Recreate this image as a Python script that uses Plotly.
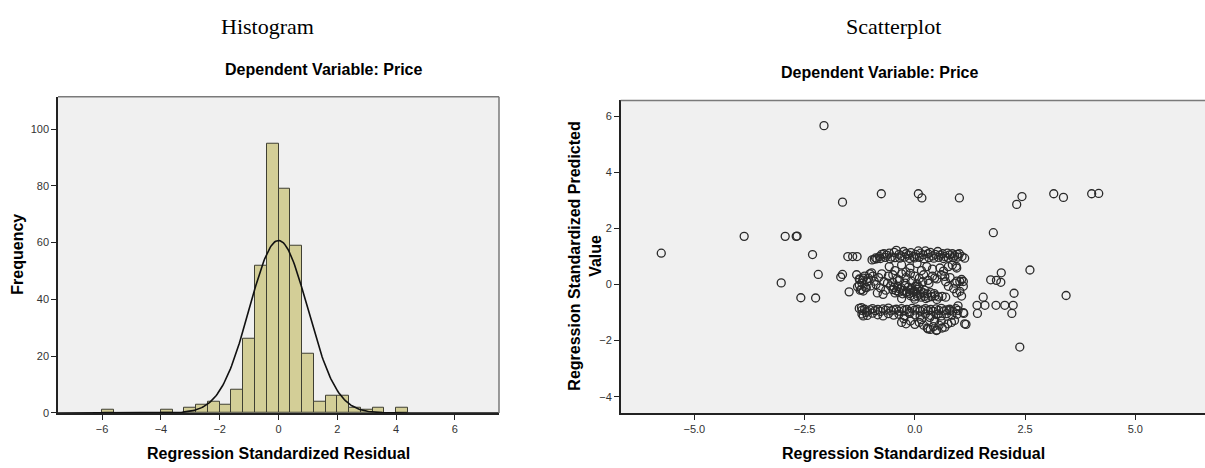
import plotly.graph_objects as go
import numpy as np

W, H = 1205, 468

# ---------------- Histogram data ----------------
bin_width = 0.4
bin_left_edges = [-6.0, -4.0, -3.2, -2.8, -2.4, -2.0, -1.6, -1.2, -0.8, -0.4,
                  0.0, 0.4, 0.8, 1.2, 1.6, 2.0, 2.4, 2.8, 3.2, 4.0]
bin_counts = [1, 1, 2, 3, 4, 3, 8, 26, 52, 95,
              79, 59, 21, 4, 6, 6, 2, 1, 2, 2]
resid_mean = 0.0
resid_sd = 0.99
hist_xticks = [-6, -4, -2, 0, 2, 4, 6]
hist_yticks = [0, 20, 40, 60, 80, 100]

# ---------------- Scatter data (residual, predicted) ----------------
outlier_x = [-5.75, -3.87, -2.94, -2.69, -2.67, -2.06, -2.32, -2.19, -3.03, -1.64,
             -1.68, -1.64, -1.52, -1.41, -1.31, -0.76, 0.08, 0.16, 1.01, 1.78,
             2.31, 2.43, 3.15, 3.37, 4.01, 4.17, 2.61, 1.72, 1.85, 1.95,
             1.96, -2.585, -2.25, -1.49, 2.38, 3.43, 2.25, 1.55, 1.41, 1.59,
             1.84, 2.04, 2.23, 1.42, 2.2, 1.16, 1.11]
outlier_y = [1.12, 1.72, 1.72, 1.72, 1.73, 5.67, 1.07, 0.36, 0.06, 2.94,
             0.27, 0.36, 1.0, 1.0, 1.0, 3.24, 3.24, 3.09, 3.09, 1.85,
             2.86, 3.14, 3.24, 3.11, 3.24, 3.25, 0.52, 0.17, 0.15, 0.08,
             0.42, -0.47, -0.48, -0.26, -2.23, -0.39, -0.31, -0.45, -0.74, -0.74,
             -0.74, -0.74, -0.74, -1.03, -1.03, -1.42, -1.03]

top_band = [(-0.97, 0.88), (-0.92, 0.9), (-0.86, 0.92), (-0.8, 1.0), (-0.75, 1.08),
            (-0.7, 1.1), (-0.64, 1.05), (-0.58, 1.12), (-0.53, 0.98), (-0.47, 1.15),
            (-0.42, 1.22), (-0.36, 1.08), (-0.31, 1.02), (-0.25, 1.18), (-0.2, 1.1),
            (-0.14, 1.05), (-0.09, 1.14), (-0.03, 1.0), (0.02, 1.08), (0.08, 1.2),
            (0.13, 1.12), (0.19, 1.06), (0.24, 1.2), (0.3, 1.1), (0.35, 1.15),
            (0.41, 1.02), (0.46, 1.08), (0.52, 1.18), (0.57, 1.05), (0.63, 1.1),
            (0.68, 1.0), (0.74, 1.12), (0.79, 1.06), (0.85, 1.1), (0.9, 1.02),
            (0.96, 1.08), (1.01, 1.1), (1.07, 1.0), (1.13, 0.94),
            (-0.89, 0.95), (-0.78, 0.93), (-0.67, 0.97), (-0.56, 0.92), (-0.45, 0.96),
            (-0.34, 0.94), (-0.23, 0.98), (-0.12, 0.93), (-0.01, 0.95), (0.1, 0.97),
            (0.21, 0.92), (0.32, 0.96), (0.43, 0.94), (0.54, 0.97), (0.65, 0.93),
            (0.76, 0.95), (0.87, 0.96), (0.98, 0.98)]

sub_top = [(-0.58, 0.64), (-0.11, 0.59), (0.27, 0.64), (0.57, 0.59), (0.95, 0.59),
           (0.76, 0.64), (-0.3, 0.7), (0.05, 0.75), (0.4, 0.55), (-0.45, 0.5),
           (0.85, 0.7), (0.15, 0.5), (0.65, 0.48), (-0.2, 0.45), (0.94, 0.65)]

middle_loose = [(-1.32, 0.35), (-1.26, 0.2), (-1.2, 0.05), (-1.14, 0.3), (-1.08, 0.1),
                (-1.02, 0.38), (-1.0, -0.05), (-1.12, -0.1), (-1.05, 0.22), (-0.95, 0.3),
                (-0.92, 0.12), (-1.18, 0.16), (-0.98, 0.42), (-1.3, -0.08), (-1.24, -0.2),
                (-0.88, 0.0), (-0.82, 0.25), (-0.78, -0.12), (-0.75, 0.38), (-0.7, 0.1),
                (-0.66, -0.2), (-0.6, 0.3), (-0.85, -0.3), (-0.72, -0.35), (-0.62, 0.05),
                (-0.5, 0.35), (-0.4, 0.2), (-0.3, 0.38), (-0.2, 0.25), (-0.1, 0.4),
                (0.0, 0.3), (0.1, 0.22), (0.2, 0.35), (0.3, 0.15), (0.4, 0.3),
                (0.5, 0.2), (0.6, 0.35), (0.7, 0.1), (0.8, 0.25), (0.45, 0.23),
                (0.68, 0.29), (0.76, -0.06), (0.91, 0.05), (1.02, 0.11), (1.1, 0.11),
                (1.02, -0.24), (1.06, -0.41), (0.95, 0.12), (1.06, 0.18), (1.1, -0.06),
                (0.88, -0.15), (0.95, -0.3),
                (-1.25, 0.18), (-1.17, 0.23), (-1.21, -0.18), (-1.17, -0.23), (-1.1, -0.11),
                (-1.26, -0.02)]

dense_core = [(-0.55, -0.05), (-0.47, -0.1), (-0.39, -0.06), (-0.31, -0.12), (-0.23, -0.04),
              (-0.15, -0.09), (-0.07, -0.13), (0.01, -0.07), (0.09, -0.1),
              (-0.5, -0.18), (-0.42, -0.22), (-0.34, -0.16), (-0.26, -0.21), (-0.18, -0.25),
              (-0.1, -0.19), (-0.02, -0.23), (0.06, -0.17), (0.14, -0.24), (0.22, -0.2),
              (-0.45, -0.3), (-0.36, -0.27), (-0.28, -0.33), (-0.2, -0.29), (-0.12, -0.32),
              (-0.04, -0.28), (0.04, -0.31), (0.12, -0.34), (0.2, -0.3), (0.28, -0.33),
              (0.36, -0.29), (0.44, -0.32),
              (-0.1, -0.4), (-0.02, -0.44), (0.06, -0.41), (0.14, -0.45), (0.22, -0.42),
              (0.3, -0.46), (0.38, -0.43), (0.46, -0.4), (0.54, -0.44), (0.62, -0.42),
              (0.7, -0.45),
              (-0.5, 0.08), (-0.35, 0.15), (-0.22, 0.05), (-0.08, 0.12), (0.05, 0.02),
              (0.18, 0.1), (0.32, 0.04),
              (-0.3, -0.5), (0.0, -0.52), (0.25, -0.5), (0.5, -0.53)]

bottom_band = [(-1.26, -0.85), (-1.2, -0.92), (-1.14, -0.88), (-1.08, -0.95), (-1.02, -0.9),
               (-0.96, -0.86), (-0.9, -0.93), (-0.84, -0.89), (-0.78, -0.96), (-0.72, -0.87),
               (-0.66, -0.91), (-0.6, -0.84), (-0.54, -0.94), (-0.48, -0.9), (-0.42, -0.88),
               (-0.36, -0.95), (-0.3, -0.86), (-0.24, -0.92), (-0.18, -0.89), (-0.12, -0.97),
               (-0.06, -0.85), (0.0, -0.91), (0.06, -0.88), (0.12, -0.94), (0.18, -0.9),
               (0.24, -0.86), (0.3, -0.93), (0.36, -0.89), (0.42, -0.96), (0.48, -0.87),
               (0.54, -0.92), (0.6, -0.85), (0.66, -0.94), (0.72, -0.9), (0.79, -0.88),
               (0.86, -0.95), (0.93, -0.86), (0.98, -0.92),
               (-1.2, -1.05), (-1.08, -1.1), (-0.96, -1.02), (-0.84, -1.08), (-0.72, -1.12),
               (-0.6, -1.04), (-0.48, -1.09), (-0.36, -1.06), (-0.24, -1.11), (-0.12, -1.03),
               (0.0, -1.08), (0.12, -1.13), (0.24, -1.05), (0.36, -1.1), (0.48, -1.07),
               (0.6, -1.12), (0.72, -1.04), (0.84, -1.09), (0.96, -1.06),
               (-1.21, -0.82), (-1.17, -1.12), (-1.1, -1.0)]

lower_band = [(-0.3, -1.35), (-0.2, -1.4), (-0.1, -1.3), (0.0, -1.42), (0.1, -1.35),
              (0.2, -1.45), (0.28, -1.55), (0.35, -1.6), (0.42, -1.5), (0.5, -1.62),
              (0.55, -1.45), (0.62, -1.55), (0.68, -1.52), (0.75, -1.4), (0.83, -1.35),
              (0.3, -1.58), (0.49, -1.64), (-0.25, -1.22), (0.15, -1.25), (0.45, -1.3),
              (0.6, -1.3), (0.9, -1.28), (1.13, -1.4), (0.98, -0.76), (0.79, -0.93),
              (0.53, -1.05), (0.34, -1.17), (1.1, -1.0)]

scatter_xticks = [-5.0, -2.5, 0.0, 2.5, 5.0]
scatter_yticks = [-4, -2, 0, 2, 4, 6]

# ---------------- assemble ----------------
cluster = top_band + sub_top + middle_loose + dense_core + bottom_band + lower_band
sx = list(outlier_x) + [p[0] for p in cluster]
sy = list(outlier_y) + [p[1] for p in cluster]

n_obs = sum(bin_counts)
centers = [e + bin_width / 2 for e in bin_left_edges]
curve_x = np.linspace(-7.5, 7.5, 400)
curve_y = n_obs * bin_width / (resid_sd * np.sqrt(2 * np.pi)) * np.exp(-0.5 * ((curve_x - resid_mean) / resid_sd) ** 2)


def px_x(p):
    return p / W


def px_y(p):
    return 1 - p / H


# plot areas in pixels
h_l, h_r, h_t, h_b = 58, 499, 98, 418.3
s_l, s_r, s_t, s_b = 620.7, 1205, 101.7, 418.3

fig = go.Figure()
fig.add_trace(go.Bar(x=centers, y=bin_counts, width=bin_width,
                     marker=dict(color="#D3CE97", line=dict(color="#3f3f33", width=1)),
                     xaxis="x", yaxis="y", showlegend=False, hoverinfo="skip"))
fig.add_trace(go.Scatter(x=curve_x, y=curve_y, mode="lines",
                         line=dict(color="#111111", width=1.6),
                         xaxis="x", yaxis="y", showlegend=False, hoverinfo="skip"))
fig.add_trace(go.Scatter(x=sx, y=sy, mode="markers",
                         marker=dict(symbol="circle-open", size=8, color="#2a2a2a",
                                     line=dict(width=1.3, color="#2a2a2a")),
                         xaxis="x2", yaxis="y2", showlegend=False))

tick_font = dict(family="Liberation Sans, Arial", size=11, color="#333333")
common_axis = dict(showgrid=False, zeroline=False, ticks="outside", ticklen=5,
                   tickcolor="#222222", tickwidth=1, tickfont=tick_font,
                   showline=True, linecolor="#222222", linewidth=1.5)

fig.update_layout(
    width=W, height=H,
    margin=dict(l=0, r=0, t=0, b=0),
    paper_bgcolor="white",
    plot_bgcolor="#F0F0F0",
    bargap=0,
    xaxis=dict(domain=[px_x(h_l), px_x(h_r)], range=[-7.5, 7.5], tickvals=hist_xticks,
               anchor="y", **common_axis),
    yaxis=dict(domain=[px_y(h_b), px_y(h_t)], range=[0, 111.4], tickvals=hist_yticks,
               anchor="x", **common_axis),
    xaxis2=dict(domain=[px_x(s_l), px_x(s_r)], range=[-6.67, 6.58], tickvals=scatter_xticks,
                tickformat=".1f", anchor="y2", **common_axis),
    yaxis2=dict(domain=[px_y(s_b), px_y(s_t)], range=[-4.58, 6.57], tickvals=scatter_yticks,
                anchor="x2", **common_axis),
)

# frames (top and right borders)
frame_col = "#7a7a7a"
fig.add_shape(type="line", xref="paper", yref="paper", x0=px_x(h_l), x1=px_x(h_r),
              y0=px_y(h_t), y1=px_y(h_t), line=dict(color=frame_col, width=1.5))
fig.add_shape(type="line", xref="paper", yref="paper", x0=px_x(h_r), x1=px_x(h_r),
              y0=px_y(h_t), y1=px_y(h_b), line=dict(color=frame_col, width=1.5))
fig.add_shape(type="line", xref="paper", yref="paper", x0=px_x(s_l), x1=1.0,
              y0=px_y(s_t), y1=px_y(s_t), line=dict(color=frame_col, width=1.5))

serif = "Liberation Serif, Times New Roman"
sans = "Liberation Sans, Arial"


def ann(text, x, y, size, family, bold=False, angle=0):
    fig.add_annotation(text=("<b>%s</b>" % text) if bold else text,
                       x=px_x(x), y=px_y(y), xref="paper", yref="paper",
                       showarrow=False, textangle=angle, xanchor="center", yanchor="middle",
                       font=dict(family=family, size=size, color="#000000"))


ann("Histogram", 267, 27, 22, serif)
ann("Scatterplot", 893, 27, 22, serif)
ann("Dependent Variable: Price", 324, 70, 16, sans, bold=True)
ann("Dependent Variable: Price", 880, 73, 16, sans, bold=True)
ann("Frequency", 18, 258, 16, sans, bold=True, angle=-90)
ann("Regression Standardized Residual", 278, 459, 16, sans, bold=True)
ann("Regression Standardized Residual", 913, 459, 16, sans, bold=True)
ann("Regression Standardized Predicted<br>Value", 585, 260, 16, sans, bold=True, angle=-90)

fig.write_html("out.html", config={"displayModeBar": False},
               post_script="document.body.style.margin='0px';document.body.style.overflow='hidden';")
